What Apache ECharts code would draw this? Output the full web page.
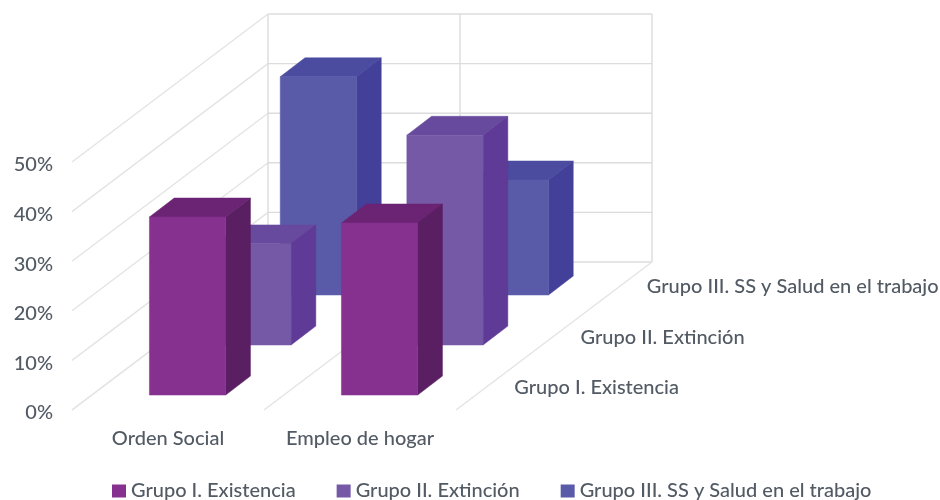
<!DOCTYPE html>
<html>
<head>
<meta charset="utf-8">
<style>html,body{margin:0;padding:0;background:#fff}#chart{width:940px;height:500px}</style>
<script src="https://cdn.jsdelivr.net/npm/echarts@6/dist/echarts.min.js"></script>
</head>
<body>
<div id="chart"></div>
<script>
// Empleo por grupo de motivos: columnas en perspectiva caballera
const categories = ['Orden Social', 'Empleo de hogar'];
const groups = ['Grupo I. Existencia', 'Grupo II. Extinción', 'Grupo III. SS y Salud en el trabajo'];
const grupoI = [35.9, 34.7];
const grupoII = [20.4, 42.3];
const grupoIII = [44, 23.2];
const yTicks = [0, 10, 20, 30, 40, 50];

// Proyección de la profundidad: desplazamiento en píxeles del fondo respecto al frente
const DEPTH_X = 196, DEPTH_Y = -148, COLUMN_DEPTH_X = 193.5;
const ROW_START = 0.101, ROW_STEP = 0.338, BAR_DEPTH = 0.128, BAR_WIDTH = 0.397;
const FONT = 'Lato, "Noto Sans", sans-serif';
const TEXT = '#525a64';
const palette = [
  { front: '#86318f', side: '#5a1f62', top: '#6b2474' },
  { front: '#7559a6', side: '#5f3a96', top: '#674a9e' },
  { front: '#5a5ba8', side: '#43409a', top: '#4b4ba0' }
];

const at = (p, z, dx = DEPTH_X) => [p[0] + dx * z, p[1] + DEPTH_Y * z];
const atCol = (p, z) => at(p, z, COLUMN_DEPTH_X);

function poly(points, fill) {
  return { type: 'polygon', shape: { points }, style: { fill, stroke: fill, lineWidth: 0.5 } };
}

function columnRenderer(row) {
  const c = palette[row];
  const z0 = ROW_START + ROW_STEP * row, z1 = z0 + BAR_DEPTH;
  return function (params, api) {
    const cat = api.value(0), val = api.value(1);
    const half = api.size([1, 0])[0] * BAR_WIDTH / 2;
    const top = api.coord([cat, val]), base = api.coord([cat, 0]);
    const tl = [top[0] - half, top[1]], tr = [top[0] + half, top[1]];
    const bl = [base[0] - half, base[1]], br = [base[0] + half, base[1]];
    return {
      type: 'group',
      children: [
        poly([atCol(tl, z0), atCol(tr, z0), atCol(tr, z1), atCol(tl, z1)], c.top),
        poly([atCol(tr, z0), atCol(br, z0), atCol(br, z1), atCol(tr, z1)], c.side),
        poly([atCol(tl, z0), atCol(tr, z0), atCol(br, z0), atCol(bl, z0)], c.front)
      ]
    };
  };
}

function seg(a, b, stroke) {
  return { type: 'line', shape: { x1: a[0], y1: a[1], x2: b[0], y2: b[1] }, style: { stroke, lineWidth: 1.4 } };
}

// Paredes, suelo y nombres de las filas de profundidad
function renderFrame(params, api) {
  const children = [];
  const wall = '#dcdcdc', side = '#e4e4e4';
  const half = api.size([1, 0])[0] / 2;
  const left = api.coord([0, 0])[0] - half;
  const edges = [left, left + 2 * half, left + 4 * half];
  const maxY = api.coord([0, yTicks[yTicks.length - 1]])[1];
  const minY = api.coord([0, 0])[1];
  yTicks.forEach(t => {
    const y = api.coord([0, t])[1];
    children.push(seg([left, y], at([left, y], 1), side));
    children.push(seg(at([left, y], 1), at([edges[2], y], 1), wall));
  });
  edges.forEach(x => {
    children.push(seg(at([x, maxY], 1), at([x, minY], 1), wall));
    children.push(seg([x, minY], at([x, minY], 1), side));
  });
  groups.forEach((name, i) => {
    const p = at([edges[2], minY], ROW_START + ROW_STEP * i + BAR_DEPTH / 2);
    children.push({
      type: 'text',
      style: {
        x: p[0] + 26, y: p[1] + 1.5, text: name, fill: TEXT,
        font: '500 20px ' + FONT, textAlign: 'left', textVerticalAlign: 'middle'
      }
    });
  });
  return { type: 'group', children };
}

const rows = [grupoI, grupoII, grupoIII];
const option = {
  animation: false,
  backgroundColor: '#ffffff',
  grid: { left: 72, right: 484, top: 162, bottom: 90 },
  xAxis: {
    type: 'category', data: categories,
    axisLine: { show: false }, axisTick: { show: false }, splitLine: { show: false },
    axisLabel: { interval: 0, hideOverlap: false, color: TEXT, fontFamily: FONT, fontSize: 20, fontWeight: 500, margin: 19 }
  },
  yAxis: {
    type: 'value', min: 0, max: 50, interval: 10,
    axisLine: { show: false }, axisTick: { show: false }, splitLine: { show: false },
    axisLabel: {
      color: TEXT, fontFamily: FONT, fontSize: 20, fontWeight: 500, margin: 19,
      formatter: '{tick|{value}%}',
      rich: { tick: { color: TEXT, fontFamily: FONT, fontSize: 20, fontWeight: 500, padding: [6, 0, 0, 0] } }
    }
  },
  legend: {
    data: groups, left: 112, top: 481, padding: 0, icon: 'rect', itemWidth: 14, itemHeight: 13, itemGap: 41,
    textStyle: { color: TEXT, fontFamily: FONT, fontSize: 20, fontWeight: 500 }
  },
  series: [
    { type: 'custom', name: 'marco', silent: true, z: 1, data: [[0, 0]], encode: { x: 0, y: 1 }, renderItem: renderFrame },
    ...rows.map((vals, i) => ({
      type: 'custom', name: groups[i], z: 5 - i,
      itemStyle: { color: palette[i].front },
      data: vals.map((v, k) => [k, v]),
      encode: { x: 0, y: 1 },
      renderItem: columnRenderer(i)
    }))
  ]
};
const chart = echarts.init(document.getElementById('chart'), null, { renderer: 'canvas' });
chart.setOption(option);
</script>
</body>
</html>
